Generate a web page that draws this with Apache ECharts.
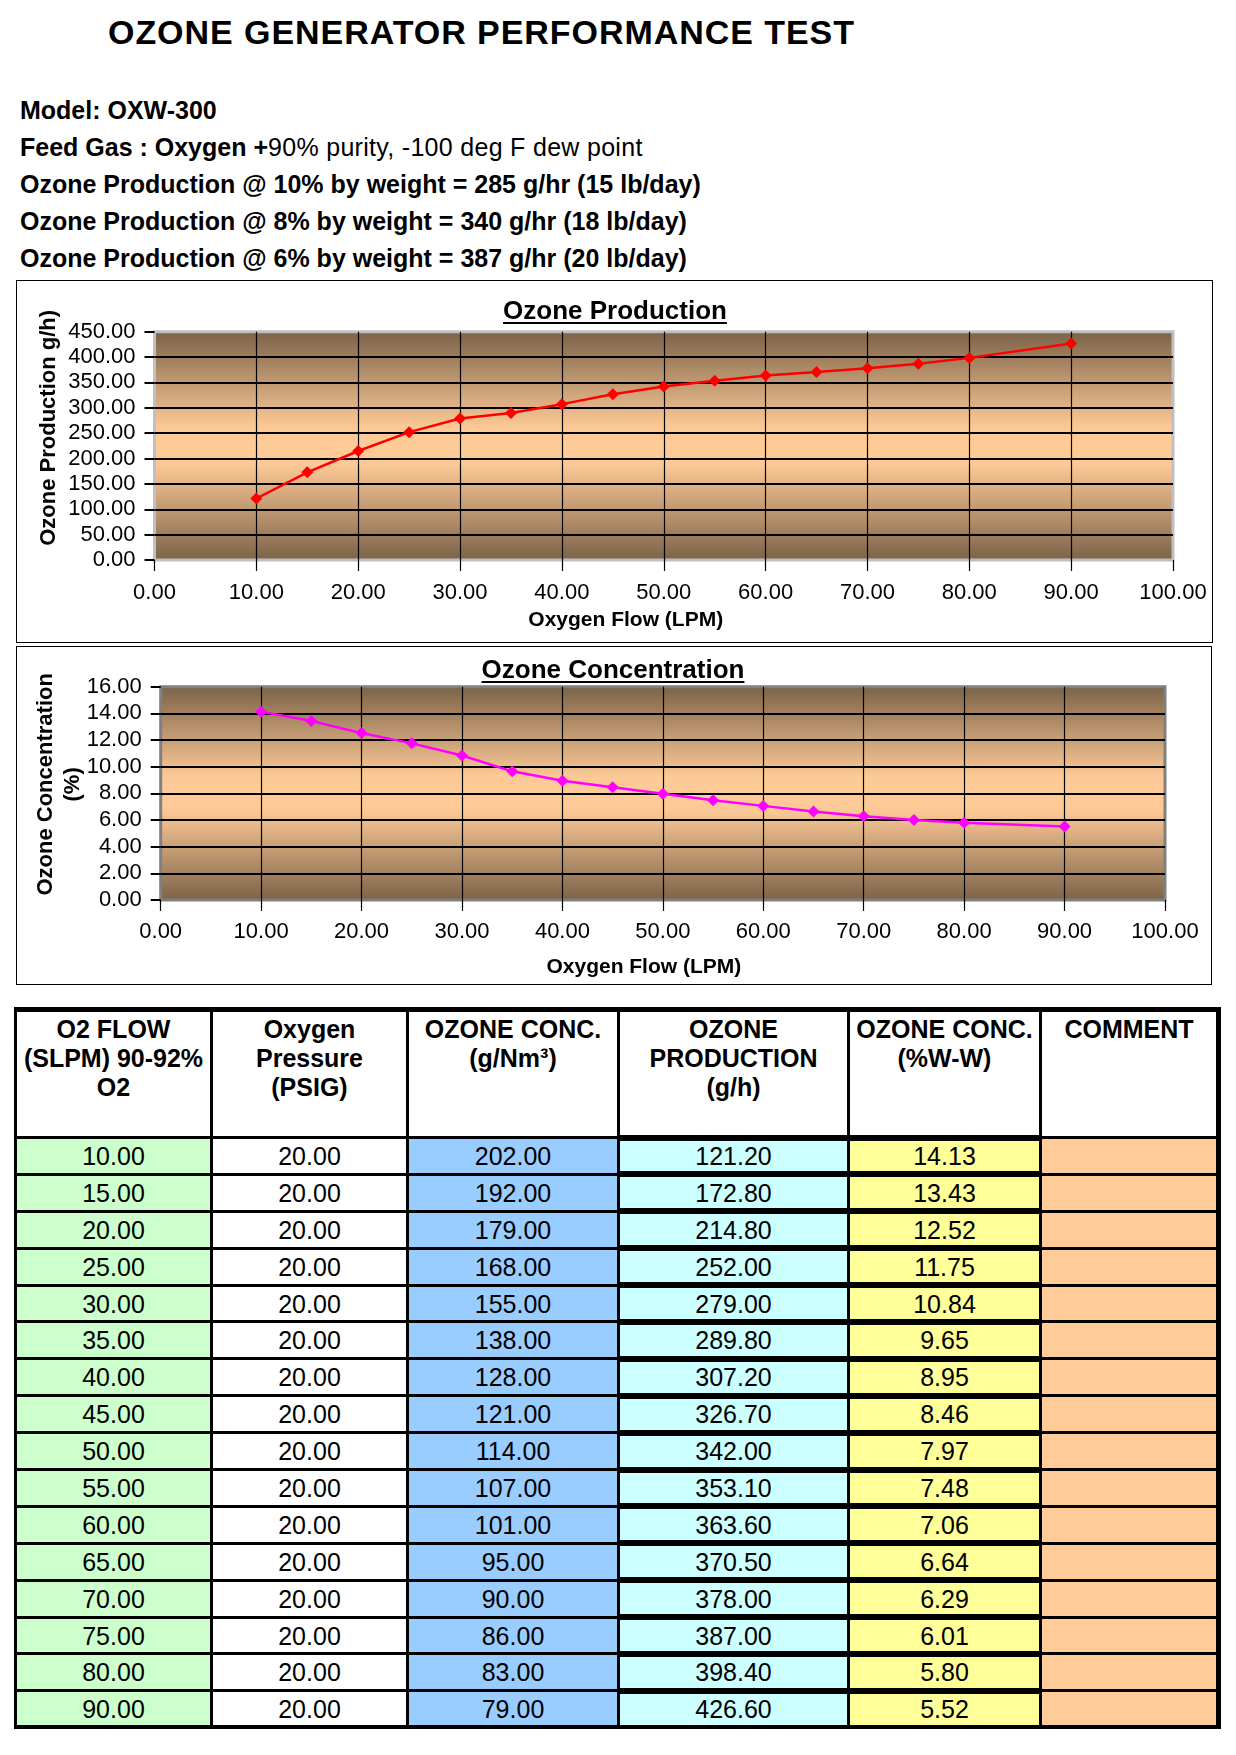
<!DOCTYPE html>
<html>
<head>
<meta charset="utf-8">
<script src="https://cdn.jsdelivr.net/npm/echarts@6/dist/echarts.min.js"></script>
<style>
  body { margin:0; background:#fff; font-family:"Liberation Sans", Arial, sans-serif; }
  #page { position:relative; width:1236px; height:1755px; overflow:hidden; background:#fff; }
  .t { position:absolute; white-space:nowrap; color:#000; }
  .box { position:absolute; border:1.5px solid #000; box-sizing:border-box; z-index:0; }
  #chart { position:absolute; left:0; top:0; width:1236px; height:1000px; z-index:1; }
  .ctitle { position:absolute; z-index:2; text-align:center; font-weight:bold; font-size:26px; line-height:30px; text-decoration:underline; text-underline-offset:3px; white-space:nowrap; }
  #tbl { position:absolute; left:14px; top:1007px; border-collapse:collapse; table-layout:fixed; width:1203px; z-index:1;
         border-top:5px solid #000; border-right:5px solid #000; border-bottom:4px solid #000; border-left:3px solid #000; }
  #tbl td { border:3px solid #000; text-align:center; padding:0; font-size:25px; color:#000; overflow:hidden; white-space:nowrap; }
  #tbl tr.hdr td { vertical-align:top; font-weight:bold; line-height:29px; padding-top:3px; background:#fff; }
  #tbl tr.row td { height:30.9px; line-height:30px; }
  #tbl tr.row td.thick { border-top:6px solid #000; }
</style>
</head>
<body>
<div id="page">
  <div class="t" style="left:108px; top:12px; font-size:34px; line-height:40px; font-weight:bold; letter-spacing:0.95px;">OZONE GENERATOR PERFORMANCE TEST</div>
  <div class="t" style="left:20px; top:92px; font-size:25px; line-height:37px; font-weight:bold;">Model: OXW-300</div>
  <div class="t" style="left:20px; top:129px; font-size:25px; line-height:37px;"><b>Feed Gas : Oxygen +</b><span style="letter-spacing:0.3px">90% purity, -100 deg F dew point</span></div>
  <div class="t" style="left:20px; top:166px; font-size:25px; line-height:37px; font-weight:bold;">Ozone Production @ 10% by weight = 285 g/hr (15 lb/day)</div>
  <div class="t" style="left:20px; top:203px; font-size:25px; line-height:37px; font-weight:bold;">Ozone Production @ 8% by weight = 340 g/hr (18 lb/day)</div>
  <div class="t" style="left:20px; top:240px; font-size:25px; line-height:37px; font-weight:bold;">Ozone Production @ 6% by weight = 387 g/hr (20 lb/day)</div>

  <div class="box" style="left:16px; top:280px; width:1197px; height:363px;"></div>
  <div class="box" style="left:16px; top:646px; width:1196px; height:339px;"></div>

  <div id="chart"></div>
  <div class="ctitle" style="left:415px; top:295px; width:400px;">Ozone Production</div>
  <div class="ctitle" style="left:413px; top:654px; width:400px;">Ozone Concentration</div>

  <table id="tbl">
    <colgroup>
      <col style="width:196px"><col style="width:196px"><col style="width:211px">
      <col style="width:230px"><col style="width:192px"><col style="width:178px">
    </colgroup>
    <tbody id="tbody"></tbody>
  </table>
</div>

<script>
// ---------- data ----------
const flow        = [10, 15, 20, 25, 30, 35, 40, 45, 50, 55, 60, 65, 70, 75, 80, 90];
const pressure    = [20, 20, 20, 20, 20, 20, 20, 20, 20, 20, 20, 20, 20, 20, 20, 20];
const concGNm3    = [202, 192, 179, 168, 155, 138, 128, 121, 114, 107, 101, 95, 90, 86, 83, 79];
const production  = [121.2, 172.8, 214.8, 252.0, 279.0, 289.8, 307.2, 326.7, 342.0, 353.1, 363.6, 370.5, 378.0, 387.0, 398.4, 426.6];
const concPct     = [14.13, 13.43, 12.52, 11.75, 10.84, 9.65, 8.95, 8.46, 7.97, 7.48, 7.06, 6.64, 6.29, 6.01, 5.80, 5.52];
const comments    = ['', '', '', '', '', '', '', '', '', '', '', '', '', '', '', ''];
const tableHeaders = ['O2 FLOW<br>(SLPM) 90-92%<br>O2', 'Oxygen<br>Pressure<br>(PSIG)', 'OZONE CONC.<br>(g/Nm³)',
                      'OZONE<br>PRODUCTION<br>(g/h)', 'OZONE CONC.<br>(%W-W)', 'COMMENT'];
const columnColors = ['#CCFFCC', '#FFFFFF', '#99CCFF', '#CCFFFF', '#FFFF99', '#FFCC99'];

// ---------- table ----------
const tbody = document.getElementById('tbody');
let html = '<tr class="hdr" style="height:128px">' + tableHeaders.map(h => '<td>' + h + '</td>').join('') + '</tr>';
const cols = [flow, pressure, concGNm3, production, concPct, comments];
for (let i = 0; i < flow.length; i++) {
  html += '<tr class="row">';
  cols.forEach((c, j) => {
    const v = c[i];
    const txt = (typeof v === 'number') ? v.toFixed(2) : v;
    const cls = (j === 3 || j === 4) ? ' class="thick"' : '';
    html += '<td' + cls + ' style="background:' + columnColors[j] + '">' + txt + '</td>';
  });
  html += '</tr>';
}
tbody.innerHTML = html;

// ---------- charts ----------
const chart = echarts.init(document.getElementById('chart'), null, { renderer: 'canvas' });
const bg = new echarts.graphic.LinearGradient(0, 0, 0, 1, [
  { offset: 0, color: '#7a6147' },
  { offset: 0.42, color: '#fcc996' },
  { offset: 0.5, color: '#ffcc99' },
  { offset: 0.58, color: '#fcc996' },
  { offset: 1, color: '#7a6147' }
]);
const fmt = v => Number(v).toFixed(2);
const font = '"Liberation Sans", Arial, sans-serif';

function xAx(idx, gap, padRight, margin) {
  return {
    type: 'value', gridIndex: idx, min: 0, max: 100, interval: 10,
    name: 'Oxygen Flow (LPM)', nameLocation: 'middle', nameGap: gap, nameMoveOverlap: false,
    nameTextStyle: { fontSize: 21, fontWeight: 'bold', color: '#000', fontFamily: font, padding: [0, padRight, 0, 0] },
    axisLine: { show: false },
    axisTick: { show: true, inside: false, length: 11, lineStyle: { color: '#000', width: 1.2 } },
    axisLabel: { formatter: fmt, fontSize: 22, color: '#000', fontFamily: font, margin: margin },
    splitLine: { show: true, showMinLine: false, showMaxLine: false, lineStyle: { color: '#000', width: 1.2 } }
  };
}
function yAx(idx, max, interval, name, gap, padLeft, lh) {
  return {
    type: 'value', gridIndex: idx, min: 0, max: max, interval: interval,
    name: name, nameLocation: 'middle', nameGap: gap, nameRotate: 90, nameMoveOverlap: false,
    nameTextStyle: { fontSize: 22, fontWeight: 'bold', color: '#000', fontFamily: font, lineHeight: lh, padding: [0, 0, 0, padLeft] },
    axisLine: { show: false },
    axisTick: { show: true, inside: false, length: 10, lineStyle: { color: '#000', width: 2 } },
    axisLabel: { formatter: fmt, fontSize: 22, color: '#000', fontFamily: font, margin: 19 },
    splitLine: { show: true, showMinLine: false, showMaxLine: false, lineStyle: { color: '#000', width: 2 } }
  };
}

chart.setOption({
  backgroundColor: 'transparent',
  animation: false,
  grid: [
    { left: 154.5, top: 331.7, width: 1018.5, height: 228.3, containLabel: false, outerBoundsMode: 'none',
      show: true, backgroundColor: bg, borderColor: '#c0c0c0', borderWidth: 3 },
    { left: 160.7, top: 686.7, width: 1004.3, height: 213.3, containLabel: false, outerBoundsMode: 'none',
      show: true, backgroundColor: bg, borderColor: '#808080', borderWidth: 3 }
  ],
  xAxis: [ xAx(0, 50, 76, 22), xAx(1, 57, 38, 21) ],
  yAxis: [
    yAx(0, 450, 50, 'Ozone Production g/h)', 95, 36, 22),
    yAx(1, 16, 2, 'Ozone Concentration\n(%)', 74, 18, 27)
  ],
  series: [
    { type: 'line', xAxisIndex: 0, yAxisIndex: 0, name: 'Ozone Production',
      data: flow.map((f, i) => [f, production[i]]),
      symbol: 'diamond', symbolSize: 12, color: '#FF0000',
      itemStyle: { color: '#FF0000' }, lineStyle: { color: '#FF0000', width: 2.5 } },
    { type: 'line', xAxisIndex: 1, yAxisIndex: 1, name: 'Ozone Concentration',
      data: flow.map((f, i) => [f, concPct[i]]),
      symbol: 'diamond', symbolSize: 12, color: '#FF00FF',
      itemStyle: { color: '#FF00FF' }, lineStyle: { color: '#FF00FF', width: 2.5 } }
  ]
});
</script>
</body>
</html>
